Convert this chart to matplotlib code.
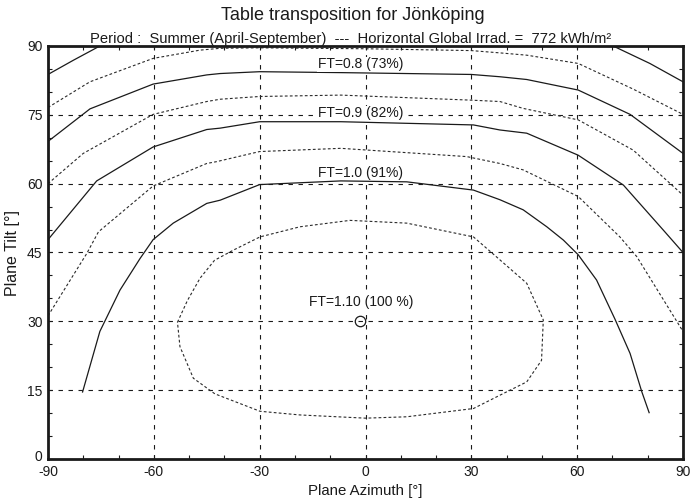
import matplotlib
matplotlib.use("Agg")
import matplotlib.pyplot as plt
import matplotlib.transforms as mtransforms
import numpy as np
from matplotlib.ticker import MultipleLocator

plt.rcParams['font.family'] = ['Liberation Sans', 'DejaVu Sans']
plt.rcParams['axes.unicode_minus'] = False

# ---- data ----
ft070_left_az = [-90, -82.8, -75.3]
ft070_left_tilt = [83.8, 86.9, 90.0]
ft070_right_az = [70.2, 80.6, 90]
ft070_right_tilt = [90.0, 86.2, 82.2]

ft075_az = [-90, -78.1, -60.2, -46.9, -41.2, -30, 0, 30, 38.1, 45.7, 60.3, 75.9, 90]
ft075_tilt = [76.6, 82.2, 87.3, 89.1, 89.5, 89.6, 89.4, 89.0, 88.5, 88.0, 86.2, 80.6, 75.1]

ft080_az = [-90, -78.1, -60.2, -45, -41.2, -30, -7, 30, 38.1, 45.7, 60.3, 75, 90]
ft080_tilt = [69.2, 76.3, 81.7, 83.7, 84.0, 84.4, 84.2, 83.8, 83.3, 82.7, 80.4, 75.1, 66.6]

ft085_az = [-90, -80, -60.2, -45, -41.2, -30, -7, 30, 38.1, 44.7, 60.3, 75.9, 90]
ft085_tilt = [60.0, 66.6, 75.1, 77.9, 78.4, 79.0, 79.3, 78.2, 77.9, 76.4, 73.9, 67.3, 57.5]

ft090_az = [-90, -76.2, -60.2, -45, -41.2, -30, -7, 30.6, 38.1, 45.7, 60.3, 73.1, 84.4, 90]
ft090_tilt = [47.8, 60.6, 68.0, 71.8, 72.1, 73.5, 73.5, 72.8, 71.7, 71.0, 66.2, 59.7, 49.9, 45.0]

ft095_az = [-90, -79, -75.7, -60.2, -45, -42.2, -30, -7, 28.7, 38.1, 44.7, 60.3, 72.1, 76.9, 90]
ft095_tilt = [31.2, 44.8, 49.5, 59.5, 64.4, 64.8, 67.0, 67.7, 65.9, 64.4, 63.0, 57.2, 48.4, 44.1, 27.8]

ft100_az = [-80.2, -75.3, -69.6, -63.9, -60.2, -54.5, -45, -41.2, -30, -7, 11.7, 30.6, 38.1,
            44.7, 51.4, 56.1, 60.3, 65.5, 70.7, 75, 78.3, 80.4]
ft100_tilt = [14.6, 27.8, 36.8, 43.7, 47.8, 51.4, 55.7, 56.4, 59.8, 60.6, 60.4, 58.6, 56.5,
              54.3, 50.6, 47.7, 44.5, 39.0, 30.5, 23.0, 14.7, 10.1]

ft105_az = [-53.3, -50.5, -46.9, -42.8, -37.5, -29.9, -18.6, -4.4, 11.7, 30.6, 38.1, 45.7, 50.4,
            49.9, 45.7, 38.1, 30.6, 11.7, 0, -18.6, -29.9, -42.7, -48.8, -52.6, -53.3]
ft105_tilt = [29.8, 34.5, 39.4, 43.3, 45.5, 48.4, 50.6, 52.0, 51.4, 48.4, 43.4, 38.3, 30.3,
              21.5, 16.8, 13.9, 11.0, 9.2, 8.9, 9.6, 10.4, 14.2, 17.6, 24.5, 29.8]

optimum_az = [-1.5]
optimum_tilt = [30.0]

label_texts = ["FT=0.8 (73%)", "FT=0.9 (82%)", "FT=1.0 (91%)", "FT=1.10 (100 %)"]

title = "Table transposition for Jönköping"
subtitle = "Period :  Summer (April-September)  ---  Horizontal Global Irrad. =  772 kWh/m²"
xticks = [-90, -60, -30, 0, 30, 60, 90]
yticks = [0, 15, 30, 45, 60, 75, 90]

# ---- figure ----
fig = plt.figure(figsize=(6.92, 5.01), dpi=100)
ax = fig.add_axes([48/692, 42/501, 635/692, 413/501])

ink = '#1a1a1a'
solid_kw = dict(color=ink, lw=0.9)
dot_kw = dict(color='#2a2a2a', lw=0.8, linestyle=(0, (2.5, 2.0)))

ax.plot(ft070_left_az, ft070_left_tilt, **solid_kw)
ax.plot(ft070_right_az, ft070_right_tilt, **solid_kw)
ax.plot(ft075_az, ft075_tilt, **dot_kw)
ax.plot(ft080_az, ft080_tilt, **solid_kw)
ax.plot(ft085_az, ft085_tilt, **dot_kw)
ax.plot(ft090_az, ft090_tilt, **solid_kw)
ax.plot(ft095_az, ft095_tilt, **dot_kw)
ax.plot(ft100_az, ft100_tilt, **solid_kw)
ax.plot(ft105_az, ft105_tilt, **dot_kw)

ax.plot(optimum_az, optimum_tilt, marker='o', ms=7.5, mfc='none', mec=ink, mew=0.9, ls='none',
        zorder=4)

lab_pos = [(-1.5, 86.0), (-1.5, 75.3), (-1.5, 62.4), (-1.3, 34.2)]
for t, (x, y) in zip(label_texts, lab_pos):
    ax.text(x, y, t, ha='center', va='center', fontsize=10, color=ink, zorder=5,
            bbox=dict(boxstyle='square,pad=0.05', fc='white', ec='none'))

ax.set_xlim(-90, 90)
ax.set_ylim(0, 90)
ax.set_xticks(xticks)
ax.set_yticks(yticks)
ax.xaxis.set_minor_locator(MultipleLocator(10))
ax.yaxis.set_minor_locator(MultipleLocator(5))
ax.tick_params(which='both', direction='in', top=True, right=True, length=3, width=0.8,
               colors=ink)
ax.tick_params(axis='x', which='major', labelsize=10, pad=4)
ax.tick_params(axis='y', which='major', labelsize=10, pad=4)
ax.grid(True, which='major', color=ink, lw=0.8, linestyle=(0, (4, 5)))
for s in ax.spines.values():
    s.set_linewidth(2.0)
    s.set_color(ink)
    s.set_zorder(6)

# nudge the y "0" label up a little so it does not collide with the "-90" label
fig.canvas.draw()
ylab0 = ax.get_yticklabels()[0]
ylab0.set_transform(ylab0.get_transform() +
                    mtransforms.ScaledTranslation(0, 2.5/72, fig.dpi_scale_trans))

ax.set_xlabel("Plane Azimuth [°]", fontsize=10.8, labelpad=4, color=ink)
ax.set_ylabel("Plane Tilt [°]", fontsize=11.5, labelpad=5, color=ink)

fig.text(353/692, 1 - 15/501, title, ha='center', va='center', fontsize=13, color=ink)
fig.text(0.506, 1 - 38.5/501, subtitle, ha='center', va='center', fontsize=10.6, color=ink)

fig.savefig("out.png", dpi=100)
